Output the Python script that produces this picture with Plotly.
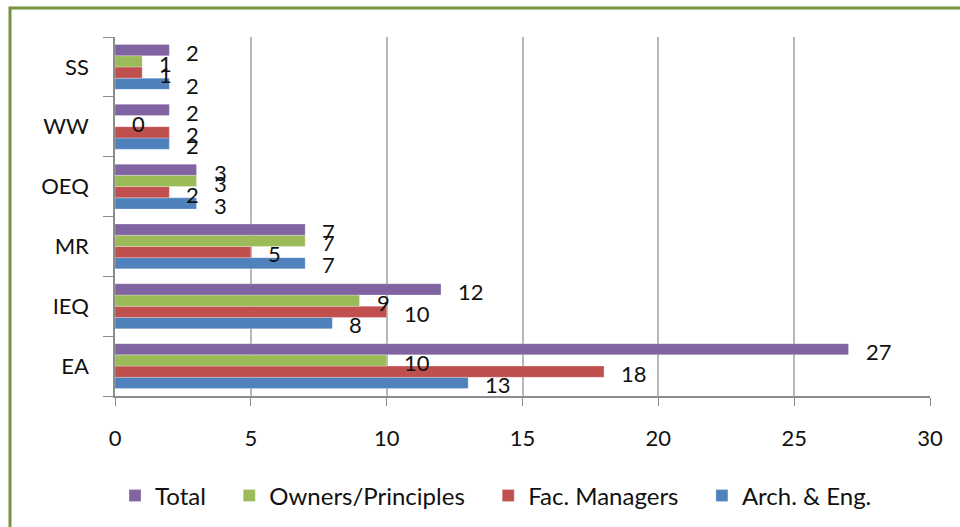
import plotly.graph_objects as go

categories = ["EA", "IEQ", "MR", "OEQ", "WW", "SS"]
arch_eng = [13, 8, 7, 3, 2, 2]
fac_managers = [18, 10, 5, 2, 2, 1]
owners = [10, 9, 7, 3, 0, 1]
total = [27, 12, 7, 3, 2, 2]
x_ticks = [0, 5, 10, 15, 20, 25, 30]

series = [
    ("Arch. & Eng.", arch_eng, "#4F81BD"),
    ("Fac. Managers", fac_managers, "#C0504D"),
    ("Owners/Principles", owners, "#9BBB59"),
    ("Total", total, "#8064A2"),
]

FONT = "Lato"
PAD = "\u00a0" * 3
fig = go.Figure()
annotations = []
bar_px = 11
for i, (name, vals, color) in enumerate(series):
    fig.add_trace(go.Bar(
        y=categories, x=vals, name=name if i == 0 else name + PAD, orientation="h",
        marker=dict(color=color, line=dict(color="rgba(255,255,255,0.5)", width=0.5)),
    ))
    shift = (i - 1.5) * bar_px
    for c, v in zip(categories, vals):
        annotations.append(dict(
            x=v, y=c, xref="x", yref="y", text=str(v), showarrow=False,
            xanchor="left", yanchor="middle", xshift=15, yshift=shift - 2,
            font=dict(family=FONT, size=22, color="#111"),
        ))

W, H = 960, 527
ml, mr, mt, mb = 115, 30, 37, 131
pw, ph = W - ml - mr, H - mt - mb

def px_x(x):
    return (x - ml) / pw

def px_y(y):
    return 1 - (y - mt) / ph

fig.update_layout(
    width=W, height=H,
    margin=dict(l=ml, r=mr, t=mt, b=mb, autoexpand=False),
    paper_bgcolor="white", plot_bgcolor="white",
    barmode="group", bargap=0.25, bargroupgap=0,
    font=dict(family=FONT, size=22, color="#111"),
    showlegend=True,
    legend=dict(
        orientation="h", traceorder="reversed",
        x=px_x(496), xanchor="center", y=px_y(496), yanchor="middle",
        font=dict(family=FONT, size=24, color="#111"),
    ),
    annotations=annotations,
    shapes=[dict(
        type="rect", xref="paper", yref="paper",
        x0=px_x(10), x1=px_x(990), y0=px_y(560), y1=px_y(8),
        line=dict(color="#77933C", width=3), layer="below",
    )],
)
fig.update_xaxes(
    range=[0, 30], tickvals=x_ticks, showgrid=True, gridcolor="#B8B8B8", gridwidth=1.5,
    showline=True, linecolor="#8C8C8C", linewidth=1.5, ticks="outside", ticklen=8,
    tickcolor="#8C8C8C", ticklabelstandoff=14, zeroline=False, automargin=False,
    tickfont=dict(family=FONT, size=22, color="#111"),
)
fig.update_yaxes(
    categoryorder="array", categoryarray=categories, range=[-0.5, len(categories) - 0.5],
    showline=True, linecolor="#8C8C8C", linewidth=1.5, ticks="outside", ticklen=10,
    tickcolor="#8C8C8C", tickson="boundaries", showgrid=False, automargin=False,
    ticklabelstandoff=20,
    tickfont=dict(family=FONT, size=22, color="#111"),
)
fig.write_html(
    "out.html",
    config={"displayModeBar": False},
    post_script="document.body.style.margin='0';document.body.style.overflow='hidden';",
)
